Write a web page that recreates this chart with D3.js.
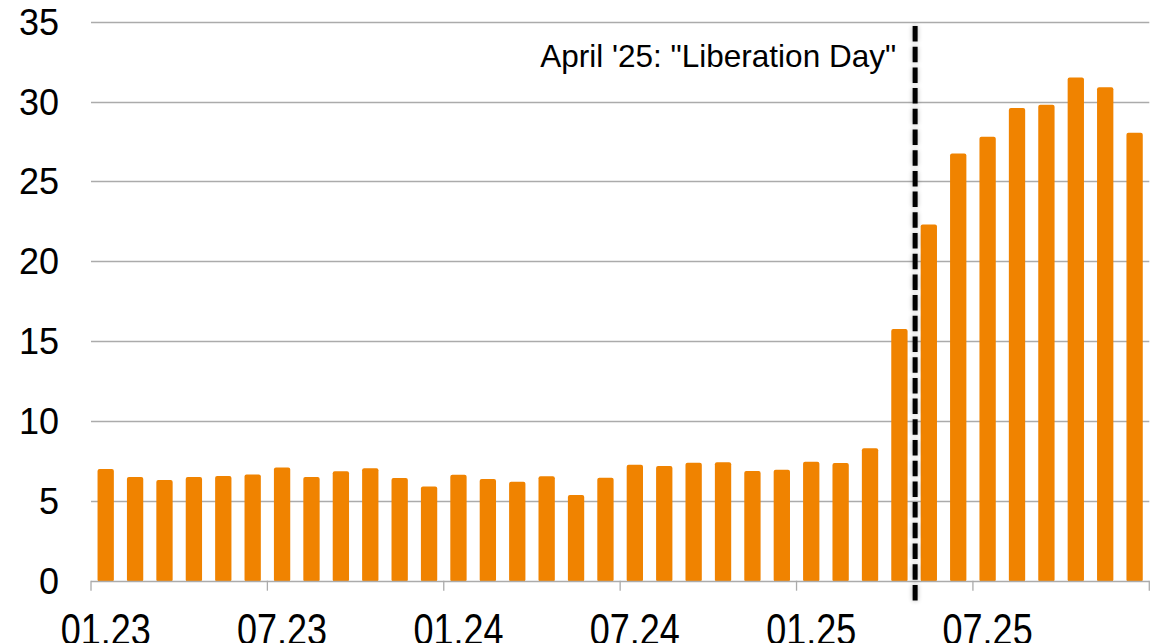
<!DOCTYPE html>
<html>
<head>
<meta charset="utf-8">
<script src="https://cdn.jsdelivr.net/npm/d3@7"></script>
<style>
    html, body { margin: 0; padding: 0; background: #fff; }
    svg { display: block; }
    text { font-family: "Liberation Sans", Arial, sans-serif; fill: #000; }
</style>
</head>
<body>
<svg id="chart" width="1159" height="643"></svg>
<script>

// monthly values, 01.23 .. 12.25
var months = [
    '01.23', '02.23', '03.23', '04.23', '05.23', '06.23',
    '07.23', '08.23', '09.23', '10.23', '11.23', '12.23',
    '01.24', '02.24', '03.24', '04.24', '05.24', '06.24',
    '07.24', '08.24', '09.24', '10.24', '11.24', '12.24',
    '01.25', '02.25', '03.25', '04.25', '05.25', '06.25',
    '07.25', '08.25', '09.25', '10.25', '11.25', '12.25'
];

var values = [
    7.0, 6.5, 6.3, 6.5, 6.55, 6.65,
    7.08, 6.5, 6.85, 7.04, 6.43, 5.9,
    6.64, 6.37, 6.2, 6.54, 5.37, 6.45,
    7.26, 7.18, 7.39, 7.41, 6.87, 6.95,
    7.45, 7.37, 8.3, 15.76, 22.3, 26.74,
    27.8, 29.6, 29.8, 31.5, 30.9, 28.05
];

var xTickLabels = ['01.23', '07.23', '01.24', '07.24', '01.25', '07.25'];
var yTicks = [0, 5, 10, 15, 20, 25, 30, 35];

var markerMonth = '04.25';
var markerText = 'April \'25: "Liberation Day"';


var svg = d3.select('#chart');

var plotLeft = 91,
    plotRight = 1149.3,
    plotTop = 21.7,
    plotBottom = 580.7;

var x = d3.scaleBand()
    .domain(months)
    .range([plotLeft, plotRight])
    .paddingInner(0.445)
    .paddingOuter(0.2225);

var y = d3.scaleLinear()
    .domain([0, 35])
    .range([plotBottom, plotTop]);

var step = x.step();

// soft shadow for the dashed marker (user space, the line has no width)
var defs = svg.append('defs');
var glow = defs.append('filter')
    .attr('id', 'glow')
    .attr('filterUnits', 'userSpaceOnUse')
    .attr('x', 0).attr('y', 0)
    .attr('width', 1159).attr('height', 643);
glow.append('feGaussianBlur')
    .attr('in', 'SourceAlpha')
    .attr('stdDeviation', 2.5)
    .attr('result', 'blur');
glow.append('feComponentTransfer')
    .attr('in', 'blur')
    .attr('result', 'soft')
    .append('feFuncA')
    .attr('type', 'linear')
    .attr('slope', 0.3);
var merge = glow.append('feMerge');
merge.append('feMergeNode').attr('in', 'soft');
merge.append('feMergeNode').attr('in', 'SourceGraphic');

// gridlines
svg.append('g')
    .selectAll('line')
    .data(yTicks.filter(function (d) { return d > 0; }))
    .enter()
    .append('line')
    .attr('x1', plotLeft)
    .attr('x2', plotRight)
    .attr('y1', function (d) { return Math.round(y(d)) + 0.5; })
    .attr('y2', function (d) { return Math.round(y(d)) + 0.5; })
    .attr('stroke', '#ababab')
    .attr('stroke-width', 1.3);

// y labels
svg.append('g')
    .selectAll('text')
    .data(yTicks)
    .enter()
    .append('text')
    .attr('x', 59)
    .attr('y', function (d) { return y(d) + 13; })
    .attr('text-anchor', 'end')
    .style('font-size', '36px')
    .text(function (d) { return d; });

// bars
svg.append('g')
    .selectAll('rect')
    .data(values)
    .enter()
    .append('rect')
    .attr('x', function (d, i) { return x(months[i]); })
    .attr('y', function (d) { return y(d); })
    .attr('width', x.bandwidth())
    .attr('height', function (d) { return plotBottom - y(d) + 1; })
    .attr('rx', 2)
    .attr('fill', '#f08300');

// x axis line and ticks
var axis = svg.append('g');
axis.append('line')
    .attr('x1', plotLeft).attr('x2', plotRight)
    .attr('y1', Math.round(plotBottom) + 0.5).attr('y2', Math.round(plotBottom) + 0.5)
    .attr('stroke', '#ababab')
    .attr('stroke-width', 1.3);

var tickPos = d3.range(0, months.length + 1, 6).map(function (i) {
    return plotLeft + i * step;
});

axis.selectAll('line.tick')
    .data(tickPos)
    .enter()
    .append('line')
    .attr('class', 'tick')
    .attr('x1', function (d) { return d; })
    .attr('x2', function (d) { return d; })
    .attr('y1', plotBottom)
    .attr('y2', plotBottom + 10)
    .attr('stroke', '#ababab')
    .attr('stroke-width', 1.3);

axis.selectAll('text')
    .data(xTickLabels)
    .enter()
    .append('text')
    .attr('transform', function (d) {
        return 'translate(' + (x(d) + x.bandwidth() / 2) + ',645) scale(1,1.25)';
    })
    .attr('text-anchor', 'middle')
    .style('font-size', '36px')
    .text(function (d) { return d; });

// "Liberation Day" marker, just after the April '25 bar
var mx = x(markerMonth) + x.bandwidth() + (step - x.bandwidth()) / 2 + 1;

svg.append('line')
    .attr('x1', mx).attr('x2', mx)
    .attr('y1', 26).attr('y2', 602)
    .attr('stroke', '#000')
    .attr('stroke-width', 5)
    .attr('stroke-dasharray', '15.5 5.2')
    .attr('filter', 'url(#glow)');

svg.append('text')
    .attr('x', mx - 19)
    .attr('y', 66.5)
    .attr('text-anchor', 'end')
    .style('font-size', '31.5px')
    .text(markerText);

</script>
</body>
</html>
